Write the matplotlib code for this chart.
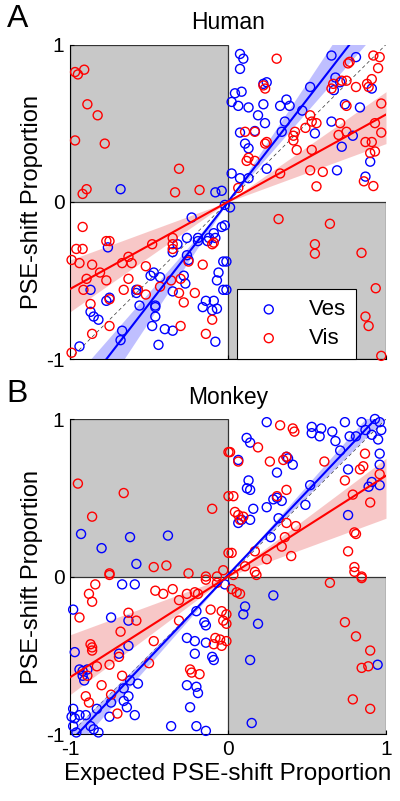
import numpy as np
import matplotlib
matplotlib.use("Agg")
import matplotlib.pyplot as plt
from matplotlib.patches import Rectangle

plt.rcParams['font.family'] = ['Liberation Sans', 'DejaVu Sans']
plt.rcParams['axes.unicode_minus'] = False

# panel titles
titles = ['Human', 'Monkey']
letters = ['A', 'B']
series_names = ['Ves', 'Vis']

# Human, vestibular (x = expected, y = observed PSE-shift proportion)
ves_human = [
    (-0.68, 0.08), (-0.08, 0.06), (-0.04, 0.07), (0.076, 0.94), (0.097, 0.91),
    (0.076, 0.845), (0.224, 0.75), (0.245, 0.76), (0.044, 0.69), (0.086, 0.70),
    (0.023, 0.635), (0.065, 0.61), (0.13, 0.60), (0.224, 0.62), (0.33, 0.61),
    (0.37, 0.65), (0.39, 0.61), (0.19, 0.55), (0.234, 0.50), (0.36, 0.51),
    (0.076, 0.44), (0.108, 0.37), (0.13, 0.34), (0.17, 0.45), (0.34, 0.445),
    (0.52, 0.73), (0.47, 0.58), (0.55, 0.435), (0.655, 0.93), (0.68, 0.79),
    (0.71, 0.76), (0.67, 0.71), (0.81, 0.92), (0.91, 0.72), (0.74, 0.62),
    (0.835, 0.60), (0.655, 0.51), (0.72, 0.35), (0.79, 0.42), (0.90, 0.255),
    (0.87, 0.16), (0.69, 0.20), (0.245, 0.21), (0.023, 0.18), (0.076, 0.15),
    (0.13, 0.15),
    (-0.76, -0.29), (-0.87, -0.56), (-0.77, -0.63), (-0.75, -0.61), (-0.87, -0.70),
    (-0.85, -0.73), (-0.82, -0.75), (-0.94, -0.92), (-0.67, -0.82), (-0.68, -0.88),
    (-0.58, -0.56), (-0.58, -0.58), (-0.49, -0.47), (-0.47, -0.45), (-0.43, -0.48),
    (-0.56, -0.66), (-0.46, -0.66), (-0.46, -0.67), (-0.46, -0.73), (-0.48, -0.79),
    (-0.40, -0.81), (-0.35, -0.82), (-0.44, -0.91), (-0.28, -0.47), (-0.27, -0.52),
    (-0.35, -0.57), (-0.26, -0.23), (-0.23, -0.10), (-0.32, -0.27), (-0.35, -0.32),
    (-0.19, -0.25), (-0.19, -0.23), (-0.13, -0.25), (-0.12, -0.23), (-0.08, -0.23),
    (-0.09, -0.20), (-0.04, -0.16), (-0.03, -0.38), (-0.06, -0.45), (-0.07, -0.50),
    (-0.03, -0.56), (-0.14, -0.63), (-0.09, -0.63), (-0.07, -0.68), (-0.16, -0.67),
    (-0.10, -0.69), (-0.26, -0.34), (-0.25, -0.37), (-0.08, -0.89), (-0.02, -0.02),
    (0.013, -0.036), (-0.02, -0.15), (-0.01, -0.38), (-0.01, -0.56),
]

# Human, visual
vis_human = [
    (-0.968, 0.825), (-0.95, 0.81), (-0.91, 0.84), (-0.89, 0.62), (-0.825, 0.55),
    (-0.968, 0.39), (-0.78, 0.37), (-0.31, 0.21), (-0.895, 0.08), (-0.92, 0.05),
    (-0.335, 0.06), (-0.18, 0.075),
    (0.308, 0.91), (0.235, 0.72), (0.224, 0.74), (0.108, 0.445), (0.17, 0.445),
    (0.245, 0.38), (0.235, 0.37), (0.13, 0.28), (0.118, 0.26), (0.17, 0.26),
    (0.33, 0.18), (0.414, 0.42), (0.424, 0.445), (0.414, 0.39), (0.49, 0.47),
    (0.52, 0.55), (0.53, 0.51), (0.56, 0.50), (0.435, 0.33), (0.53, 0.33),
    (0.52, 0.20), (0.60, 0.19), (0.56, 0.098), (0.655, 0.72), (0.666, 0.75),
    (0.72, 0.77), (0.75, 0.77), (0.77, 0.89), (0.76, 0.88), (0.81, 0.73),
    (0.88, 0.75), (0.91, 0.78), (0.89, 0.73), (0.92, 0.93), (0.96, 0.92),
    (0.95, 0.85), (0.97, 0.625), (0.75, 0.61), (0.71, 0.50), (0.70, 0.425),
    (0.75, 0.445), (0.93, 0.50), (0.97, 0.44), (0.87, 0.38), (0.91, 0.38),
    (0.90, 0.31), (0.93, 0.32), (0.92, 0.10), (0.86, 0.13), (0.065, 0.088),
    (-0.92, -0.16), (-0.77, -0.25), (-0.75, -0.25), (-0.96, -0.30), (-0.92, -0.30),
    (-0.99, -0.37), (-0.94, -0.39), (-0.86, -0.40), (-0.81, -0.45), (-0.77, -0.50),
    (-0.895, -0.49), (-0.915, -0.56), (-0.67, -0.39), (-0.63, -0.35), (-0.61, -0.39),
    (-0.52, -0.41), (-0.63, -0.49), (-0.57, -0.56), (-0.52, -0.59), (-0.43, -0.54),
    (-0.66, -0.56), (-0.75, -0.62), (-0.87, -0.65), (-0.86, -0.84), (-0.75, -0.79),
    (-0.99, -0.96), (-0.48, -0.27), (-0.35, -0.23), (-0.35, -0.27), (-0.35, -0.30),
    (-0.25, -0.38), (-0.30, -0.49), (-0.36, -0.50), (-0.31, -0.58), (-0.28, -0.64),
    (-0.21, -0.58), (-0.16, -0.40), (-0.10, -0.27), (-0.09, -0.26), (-0.30, -0.79),
    (-0.14, -0.84), (-0.10, -0.75),
    (0.32, -0.11), (0.645, -0.14), (0.55, -0.27), (0.55, -0.33), (0.845, -0.325),
    (0.935, -0.55), (0.87, -0.73), (0.89, -0.79), (0.97, -0.98),
]

# Monkey, vestibular
ves_monkey = [
    (-0.93, 0.27), (-0.80, 0.18), (-0.62, 0.25), (-0.38, 0.26), (-0.58, 0.08),
    (0.245, 0.98), (0.118, 0.88), (0.14, 0.85), (0.065, 0.74), (0.37, 0.76),
    (0.38, 0.75), (0.41, 0.71), (0.31, 0.66), (0.13, 0.61), (0.12, 0.56),
    (0.14, 0.55), (0.16, 0.43), (0.065, 0.34), (0.086, 0.36), (0.14, 0.36),
    (0.245, 0.44), (0.287, 0.49), (0.31, 0.50), (0.34, 0.48), (0.32, 0.37),
    (0.49, 0.455), (0.52, 0.58), (0.27, 0.25), (0.53, 0.95), (0.59, 0.94),
    (0.66, 0.92), (0.53, 0.91), (0.58, 0.89), (0.68, 0.86), (0.74, 0.98),
    (0.77, 0.89), (0.81, 0.89), (0.845, 0.98), (0.93, 1.0), (0.96, 0.98),
    (0.97, 0.93), (0.91, 0.90), (0.95, 0.87), (0.87, 0.93), (0.71, 0.80),
    (0.76, 0.68), (0.91, 0.60), (0.96, 0.58), (0.89, 0.57), (0.96, 0.78),
    (0.96, 0.71), (0.76, 0.39),
    (-0.98, -0.21), (-0.74, -0.26), (-0.67, -0.05), (-0.59, -0.05), (-0.63, -0.28),
    (-0.97, -0.48), (-0.94, -0.59), (-0.92, -0.60), (-0.89, -0.59), (-0.69, -0.49),
    (-0.63, -0.44), (-0.92, -0.63), (-0.91, -0.66), (-0.62, -0.66), (-0.57, -0.68),
    (-0.66, -0.71), (-0.74, -0.80), (-0.66, -0.79), (-0.63, -0.76), (-0.64, -0.83),
    (-0.83, -0.84), (-0.98, -0.84), (-0.99, -0.89), (-0.97, -0.90), (-0.94, -0.88),
    (-0.90, -0.88), (-0.98, -0.95), (-0.96, -0.99), (-0.87, -0.95), (-0.82, -0.99),
    (-0.85, -0.97), (-0.59, -0.88), (-0.75, -0.89), (-0.20, -0.22), (-0.14, -0.31),
    (-0.15, -0.29), (-0.26, -0.39), (-0.21, -0.41), (-0.14, -0.42), (-0.10, -0.51),
    (-0.09, -0.53), (-0.21, -0.49), (-0.26, -0.69), (-0.20, -0.70), (-0.19, -0.74),
    (-0.24, -0.83), (-0.36, -0.95), (-0.20, -0.95), (-0.14, -0.98), (-0.02, -0.05),
    (0.287, -0.12), (0.108, -0.19), (0.097, -0.24), (0.19, -0.30), (0.14, -0.53),
    (0.15, -0.93), (0.947, -0.56),
]

# Monkey, visual
vis_monkey = [
    (-0.95, 0.59), (-0.66, 0.53), (-0.86, 0.38), (-0.10, 0.43), (0.003, 0.79),
    (0.003, 0.51), (0.003, 0.15), (-0.75, 0.02), (-0.47, 0.06), (-0.39, 0.07),
    (-0.25, 0.02), (-0.14, 0.0), (-0.07, 0.0), (-0.03, 0.04),
    (0.33, 0.96), (0.41, 0.94), (0.42, 0.92), (0.19, 0.82), (0.013, 0.79),
    (0.065, 0.73), (0.265, 0.73), (0.35, 0.74), (0.37, 0.76), (0.034, 0.51),
    (0.044, 0.41), (0.065, 0.39), (0.097, 0.38), (0.076, 0.36), (0.31, 0.51),
    (0.37, 0.55), (0.61, 0.73), (0.74, 0.61), (0.835, 0.68), (0.856, 0.70),
    (0.867, 0.78), (0.96, 0.65), (0.79, 0.52), (0.90, 0.47), (0.37, 0.34),
    (0.43, 0.32), (0.36, 0.25), (0.34, 0.19), (0.40, 0.13), (0.023, 0.15),
    (0.17, 0.16), (0.245, 0.11), (0.108, 0.065), (0.17, 0.03), (0.80, 0.28),
    (0.81, 0.27), (0.76, 0.16), (0.80, 0.06), (0.846, 0.0),
    (-0.84, -0.05), (-0.88, -0.11), (-0.86, -0.16), (-0.94, -0.26), (-0.75, 0.01),
    (-0.46, -0.09), (-0.41, -0.11), (-0.35, -0.08), (-0.31, -0.15), (-0.26, -0.11),
    (-0.21, -0.10), (-0.19, -0.11), (-0.14, -0.02), (-0.07, -0.04), (-0.63, -0.23),
    (-0.58, -0.28), (-0.68, -0.35), (-0.87, -0.43), (-0.86, -0.45), (-0.86, -0.47),
    (-0.47, -0.41), (-0.69, -0.51), (-0.75, -0.56), (-0.31, -0.28), (-0.11, -0.21),
    (-0.04, -0.22), (-0.03, -0.28), (-0.08, -0.39), (-0.05, -0.40), (-0.04, -0.44),
    (-0.09, -0.43), (-0.50, -0.55), (-0.83, -0.57), (-0.89, -0.63), (-0.80, -0.69),
    (-0.67, -0.63), (-0.90, -0.76), (-0.88, -0.80), (-0.74, -0.75), (-0.70, -0.87),
    (-0.24, -0.59), (-0.23, -0.61), (-0.18, -0.62),
    (0.645, -0.04), (0.846, -0.01), (0.80, 0.03), (0.74, -0.29), (0.81, -0.38),
    (0.90, -0.47), (0.846, -0.58), (0.888, -0.57), (0.79, -0.78), (0.90, -0.84),
    (0.023, -0.08), (0.055, -0.10), (0.076, -0.11), (0.034, 0.01), (0.18, 0.01),
    (-0.01, -0.24), (-0.01, -0.30), (-0.01, -0.41),
]

# regression fits: slope, intercept, band slopes (low, high)
fit_slope = {'Human': [1.30, 0.555], 'Monkey': [1.06, 0.64]}
fit_icpt = {'Human': [0.0, 0.0], 'Monkey': [0.01, 0.0]}
band_lo = {'Human': [1.15, 0.37], 'Monkey': [1.00, 0.37]}
band_hi = {'Human': [1.52, 0.70], 'Monkey': [1.14, 0.75]}

data = {'Human': [ves_human, vis_human], 'Monkey': [ves_monkey, vis_monkey]}
colors = ['#0000ff', '#ff0000']
band_colors = ['#8c8cff', '#f29a9a']

fig = plt.figure(figsize=(4.0, 8.01), dpi=100)
axes = [fig.add_axes([0.175, 0.5518, 0.79, 0.3926]),
        fig.add_axes([0.175, 0.0836, 0.79, 0.3933])]

xx = np.linspace(-1, 1, 201)
for ax, name, letter in zip(axes, titles, letters):
    ax.set_xlim(-1, 1)
    ax.set_ylim(-1, 1)
    for x0, y0 in [(-1, 0), (0, -1)]:
        ax.add_patch(Rectangle((x0, y0), 1, 1, facecolor='#c8c8c8',
                               edgecolor='#333333', lw=0.9, zorder=0))
    ax.plot([-1, 1], [-1, 1], '--', color='#333333', lw=0.5, dashes=(5, 4), zorder=1)
    for i in range(2):
        b = fit_icpt[name][i]
        lo = band_lo[name][i] * xx + b
        hi = band_hi[name][i] * xx + b
        ax.fill_between(xx, np.minimum(lo, hi), np.maximum(lo, hi),
                        color=band_colors[i], alpha=0.55, lw=0, zorder=1)
    for i in range(2):
        pts = np.array(data[name][i])
        ax.scatter(pts[:, 0], pts[:, 1], s=42, facecolors='none',
                   edgecolors=colors[i], linewidths=1.0, zorder=3,
                   label=series_names[i], clip_on=False)
    for i in range(2):
        s = fit_slope[name][i]
        b = fit_icpt[name][i]
        ax.plot(xx, s * xx + b, color=colors[i], lw=1.5, zorder=4)

    ax.set_xticks([-1, 0, 1])
    ax.set_yticks([-1, 0, 1])
    ax.tick_params(direction='in', length=3, labelsize=15, pad=4)
    ax.spines['top'].set_visible(False)
    ax.spines['right'].set_visible(False)
    ax.set_title(name, fontsize=16.5, pad=11)
    ax.text(-0.2, 1.08, letter, transform=ax.transAxes, fontsize=23,
            ha='left', va='center')
    ax.set_ylabel('PSE-shift Proportion', fontsize=17, labelpad=2)

axes[0].set_xticklabels([])
axes[1].set_xlabel('Expected PSE-shift Proportion', fontsize=17.5, labelpad=3)

leg = axes[0].legend(loc='lower left', bbox_to_anchor=(0.527, 0.0), fontsize=16,
                     frameon=True, fancybox=False, edgecolor='black',
                     framealpha=1, borderaxespad=0, handletextpad=0.8,
                     borderpad=0.45, handlelength=2.0, markerscale=1.0,
                     labelspacing=0.35)
leg.get_frame().set_linewidth(0.8)
leg.set_zorder(10)

fig.savefig('out.png', dpi=100)
